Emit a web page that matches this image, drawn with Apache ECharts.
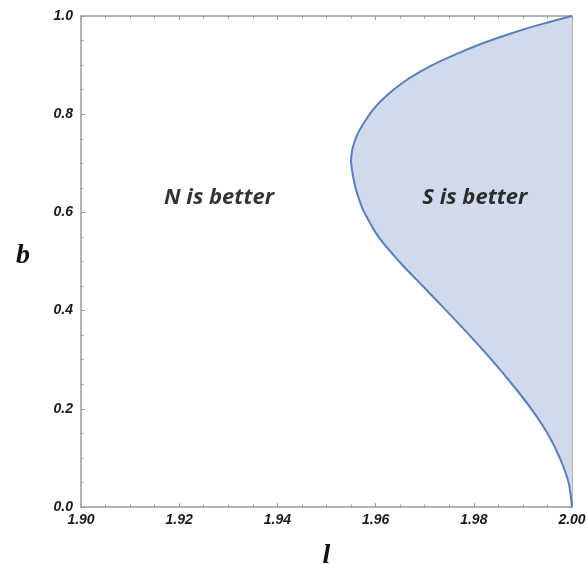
<!DOCTYPE html>
<html lang="en">
<head>
    <meta charset="UTF-8">
    <title>N vs S</title>
    <style>
        html, body { margin: 0; padding: 0; background: #fff; }
        #main { width: 587px; height: 564px; }
    </style>
</head>
<body>
<div id="main"></div>
<script src="https://cdn.jsdelivr.net/npm/echarts@6/dist/echarts.min.js"></script>
<script>
    // boundary curve (b up, l across)
    var curveB = [0, 0.05, 0.10, 0.15, 0.20, 0.25, 0.30, 0.35, 0.40, 0.45, 0.50, 0.55, 0.60, 0.625, 0.65, 0.68, 0.705, 0.73, 0.757, 0.785, 0.812, 0.840, 0.864, 0.886, 0.907, 0.927, 0.947, 0.966, 0.984, 1.0];
    var curveL = [2.0, 1.9993, 1.9975, 1.9950, 1.9917, 1.9878, 1.9836, 1.9791, 1.9744, 1.9696, 1.9648, 1.9606, 1.9577, 1.9567, 1.9559, 1.9553, 1.9550, 1.9553, 1.9562, 1.9578, 1.9597, 1.9625, 1.9655, 1.9690, 1.9730, 1.9775, 1.9825, 1.9880, 1.9940, 2.0];

    // region labels
    var regionNames = ['N is better', 'S is better'];
    var regionL = [1.9281, 1.9802];
    var regionB = [0.629, 0.629];

    var xMin = 1.90, xMax = 2.00, xStep = 0.02;
    var yMin = 0.0, yMax = 1.0, yStep = 0.2;

    var labelFont = {
        fontFamily: 'Liberation Sans',
        fontWeight: 'bold',
        fontStyle: 'italic',
        fontSize: 14,
        color: '#1a1a1a'
    };
    var frameLine = { show: true, onZero: false, lineStyle: { color: '#9a9a9a', width: 1.5 } };
    var tick = { show: true, inside: true, length: 4, lineStyle: { color: '#9a9a9a' } };
    var minor = { show: true, splitNumber: 4, length: 2.5, lineStyle: { color: '#9a9a9a' } };

    // catmull-rom through the pixel points -> svg path (drawing only)
    function smoothPath(pts) {
        var d = 'M' + pts[0][0] + ',' + pts[0][1];
        for (var i = 0; i < pts.length - 1; i++) {
            var p0 = pts[Math.max(i - 1, 0)], p1 = pts[i], p2 = pts[i + 1], p3 = pts[Math.min(i + 2, pts.length - 1)];
            var c1x = p1[0] + (p2[0] - p0[0]) / 6, c1y = p1[1] + (p2[1] - p0[1]) / 6;
            var c2x = p2[0] - (p3[0] - p1[0]) / 6, c2y = p2[1] - (p3[1] - p1[1]) / 6;
            d += 'C' + c1x + ',' + c1y + ',' + c2x + ',' + c2y + ',' + p2[0] + ',' + p2[1];
        }
        return d;
    }

    var nameFont = { fontFamily: 'Liberation Serif', fontWeight: 'bold', fontStyle: 'italic', fontSize: 28, color: '#111' };

    var chart = echarts.init(document.getElementById('main'));

    chart.setOption({
        animation: false,
        grid: { left: 81, right: 15, top: 16, bottom: 57, containLabel: false, outerBoundsMode: 'none' },
        xAxis: [{
            type: 'value', min: xMin, max: xMax, interval: xStep,
            name: 'l', nameLocation: 'middle', nameGap: 35,
            nameTextStyle: nameFont,
            axisLine: frameLine, axisTick: tick, minorTick: minor,
            splitLine: { show: false },
            axisLabel: Object.assign({ margin: 6, formatter: function (v) { return v.toFixed(2); } }, labelFont)
        }, {
            type: 'value', min: xMin, max: xMax, interval: xStep, position: 'top',
            axisLine: frameLine, axisTick: tick, minorTick: minor,
            splitLine: { show: false }, axisLabel: { show: false }
        }],
        yAxis: [{
            type: 'value', min: yMin, max: yMax, interval: yStep,
            name: 'b', nameLocation: 'middle', nameGap: 51, nameRotate: 0,
            nameTextStyle: Object.assign({ verticalAlign: 'bottom', lineHeight: 12 }, nameFont),
            axisLine: frameLine, axisTick: tick, minorTick: minor,
            splitLine: { show: false },
            axisLabel: Object.assign({ margin: 8, formatter: function (v) { return v.toFixed(1); } }, labelFont)
        }, {
            type: 'value', min: yMin, max: yMax, interval: yStep, position: 'right',
            axisLine: frameLine, axisTick: tick, minorTick: minor,
            splitLine: { show: false }, axisLabel: { show: false }
        }],
        series: [{
            type: 'custom',
            xAxisIndex: 0, yAxisIndex: 0,
            data: [[curveL[0], curveB[0]]],
            z: 1,
            renderItem: function (params, api) {
                var pts = curveL.map(function (l, i) { return api.coord([l, curveB[i]]); });
                var d = smoothPath(pts);
                return {
                    type: 'group',
                    children: [{
                        type: 'path',
                        shape: { pathData: d + 'Z' },
                        style: { fill: '#d0daea', stroke: null }
                    }, {
                        type: 'path',
                        shape: { pathData: d },
                        style: { stroke: '#5b7fbd', lineWidth: 2, fill: null }
                    }]
                };
            }
        }, {
            type: 'scatter',
            symbolSize: 0,
            z: 5,
            data: regionNames.map(function (n, i) { return { name: n, value: [regionL[i], regionB[i]] }; }),
            label: {
                show: true, position: 'inside',
                formatter: function (p) { return p.name; },
                fontFamily: 'Open Sans', fontWeight: 'bold', fontStyle: 'italic', fontSize: 22, color: '#000'
            }
        }]
    });
</script>
</body>
</html>
